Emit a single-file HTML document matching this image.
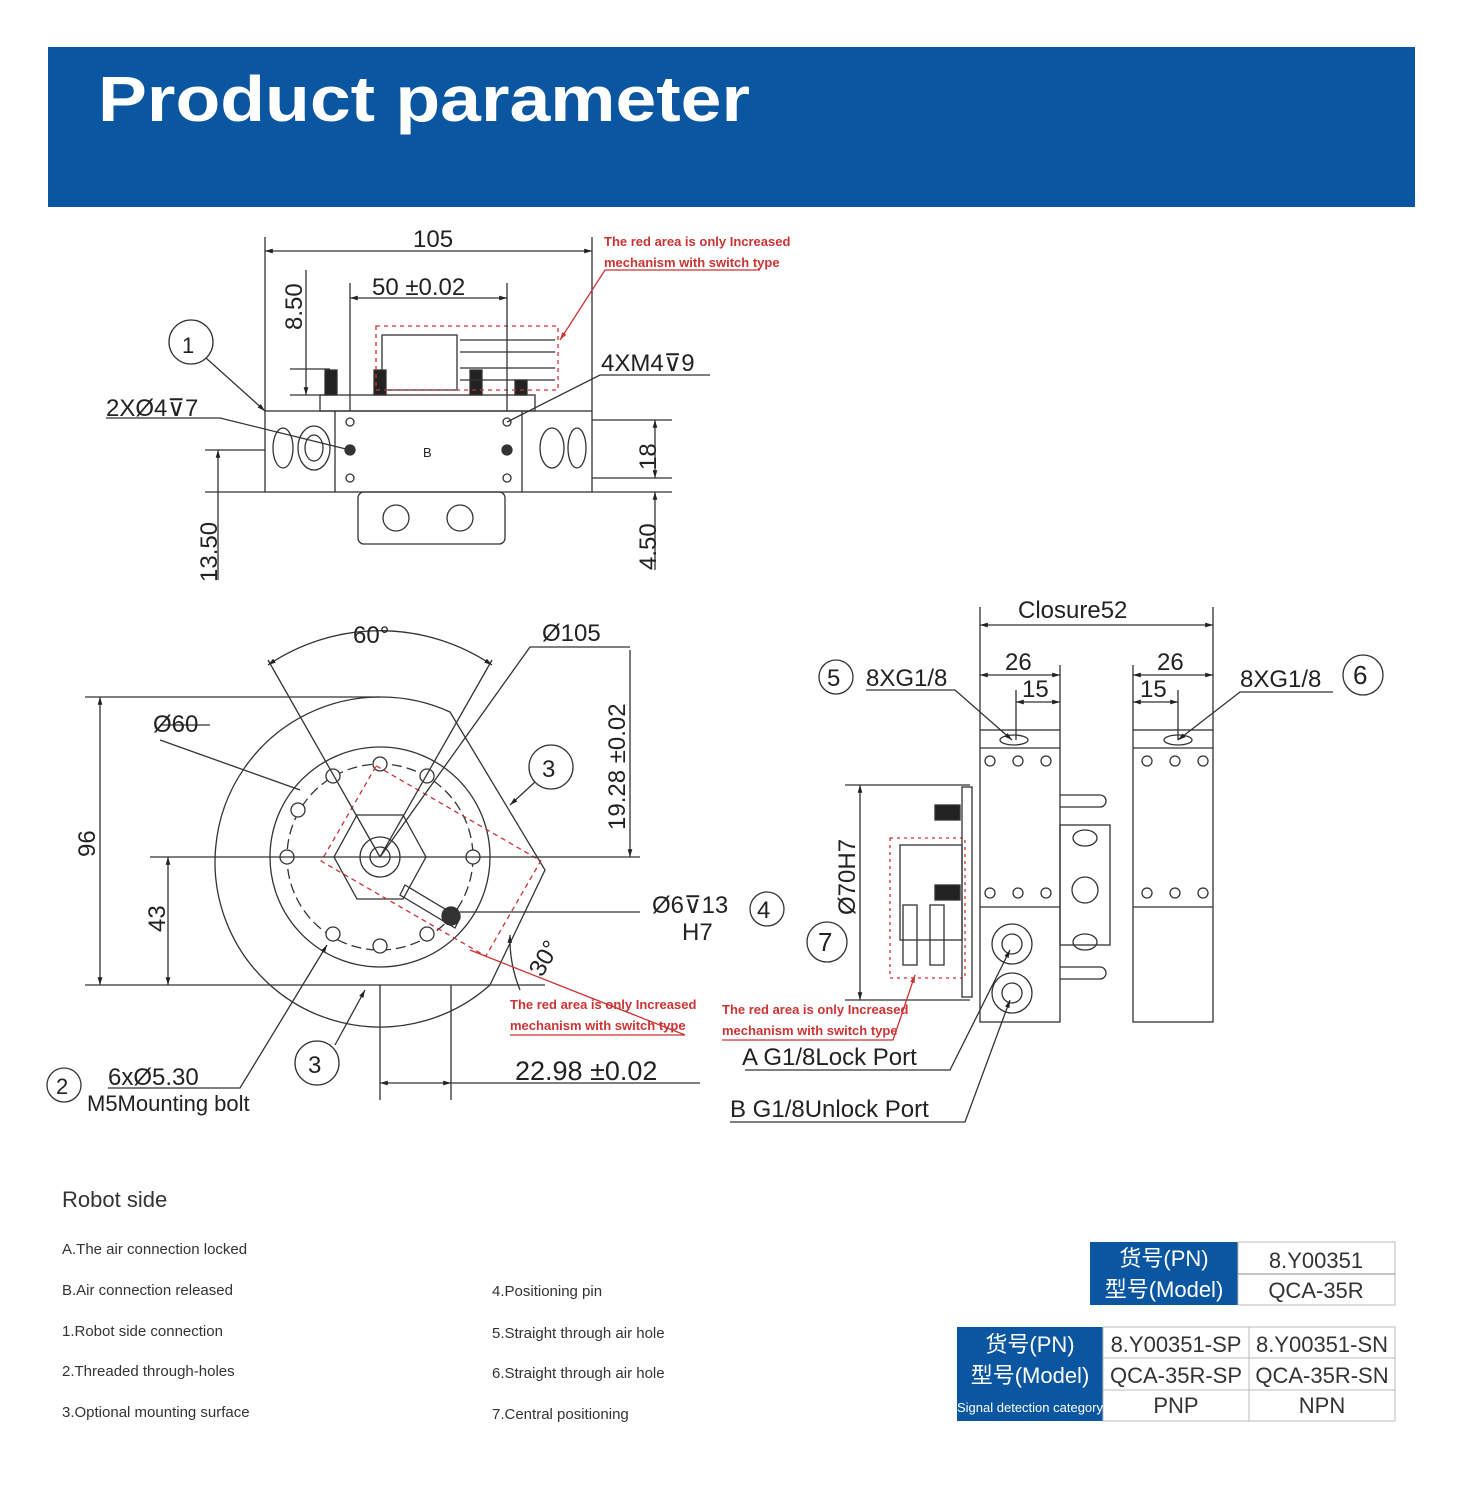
<!DOCTYPE html>
<html><head><meta charset="utf-8"><style>
html,body{margin:0;padding:0;background:#fff}
svg{display:block}
text{font-family:"Liberation Sans","Noto Sans CJK SC",sans-serif}
</style></head><body>
<svg width="1463" height="1500" viewBox="0 0 1463 1500" xmlns="http://www.w3.org/2000/svg">
<defs>
<marker id="a" viewBox="0 0 10 10" refX="10" refY="5" markerWidth="10" markerHeight="6" orient="auto-start-reverse"><path d="M0,2L10,5L0,8z" fill="#222"/></marker>
<marker id="r" viewBox="0 0 10 10" refX="10" refY="5" markerWidth="8" markerHeight="6" orient="auto"><path d="M0,2L10,5L0,8z" fill="#c33"/></marker>
</defs>
<rect x="48" y="47" width="1367" height="160" fill="#0a56a0"/>
<text x="98" y="121" font-size="64" font-weight="bold" fill="#fff" textLength="652" lengthAdjust="spacingAndGlyphs">Product parameter</text>

<g stroke="#333" stroke-width="1.3" fill="none">
<rect x="265" y="411" width="327" height="81"/>
<line x1="335" y1="411" x2="335" y2="492"/><line x1="522" y1="411" x2="522" y2="492"/>
<rect x="320" y="395" width="215" height="16"/>
<rect x="358" y="492" width="147" height="52" rx="6"/>
<circle cx="396" cy="518" r="13"/><circle cx="460" cy="518" r="13"/>
<ellipse cx="283" cy="448" rx="10" ry="20"/><ellipse cx="314" cy="448" rx="16" ry="22"/><ellipse cx="314" cy="448" rx="9" ry="13"/>
<ellipse cx="552" cy="448" rx="12" ry="20"/><ellipse cx="577" cy="448" rx="9" ry="20"/>
<circle cx="350" cy="422" r="4"/><circle cx="350" cy="450" r="5" fill="#333"/><circle cx="350" cy="478" r="4"/>
<circle cx="507" cy="422" r="4"/><circle cx="507" cy="450" r="5" fill="#333"/><circle cx="507" cy="478" r="4"/>
<rect x="382" y="335" width="75" height="55"/>
<rect x="325" y="370" width="12" height="25" fill="#222"/><rect x="374" y="370" width="12" height="25" fill="#222"/><rect x="470" y="370" width="12" height="25" fill="#222"/><rect x="515" y="380" width="12" height="15" fill="#222"/>
<path d="M460,340h95M460,352h95M460,368h95M460,380h95"/>
<rect x="376" y="326" width="182" height="64" stroke="#c33" stroke-dasharray="4,4"/>
<line x1="265" y1="237" x2="265" y2="411"/><line x1="592" y1="237" x2="592" y2="411"/>
<line x1="265" y1="251" x2="592" y2="251" marker-start="url(#a)" marker-end="url(#a)"/>
<line x1="350" y1="283" x2="350" y2="411"/><line x1="507" y1="283" x2="507" y2="411"/>
<line x1="350" y1="298" x2="507" y2="298" marker-start="url(#a)" marker-end="url(#a)"/>
<line x1="306" y1="270" x2="306" y2="395" marker-end="url(#a)"/>
<line x1="290" y1="369" x2="330" y2="369"/><line x1="290" y1="395" x2="330" y2="395"/>
<line x1="205" y1="450" x2="265" y2="450"/><line x1="205" y1="492" x2="265" y2="492"/>
<line x1="218" y1="580" x2="218" y2="450" marker-end="url(#a)"/>
<line x1="592" y1="420" x2="672" y2="420"/><line x1="592" y1="478" x2="672" y2="478"/><line x1="592" y1="492" x2="672" y2="492"/>
<line x1="655" y1="420" x2="655" y2="478" marker-start="url(#a)" marker-end="url(#a)"/>
<line x1="655" y1="570" x2="655" y2="492" marker-end="url(#a)"/>
<circle cx="191" cy="342" r="22"/>
<line x1="206" y1="358" x2="265" y2="411" marker-end="url(#a)"/>
<path d="M106,418H220L350,450"/>
<path d="M710,375H600L507,422"/>
<path d="M760,270H605L560,340" stroke="#c33" marker-end="url(#r)"/>

<path d="M380,697 A165,165 0 1 0 490,985 L545,870 L450,712 A165,165 0 0 0 380,697 Z"/>
<line x1="85" y1="985" x2="545" y2="985"/>
<circle cx="380" cy="857" r="110"/>
<circle cx="380" cy="857" r="93" stroke-dasharray="10,5"/>
<path d="M357,815h46l23,42-23,42h-46l-23-42z"/>
<circle cx="380" cy="857" r="20"/><circle cx="380" cy="857" r="10"/>
<g fill="#fff">
<circle cx="380" cy="764" r="7"/><circle cx="427" cy="776" r="7"/><circle cx="473" cy="857" r="7"/><circle cx="427" cy="934" r="7"/><circle cx="380" cy="946" r="7"/><circle cx="333" cy="934" r="7"/><circle cx="287" cy="857" r="7"/><circle cx="333" cy="776" r="7"/><circle cx="298" cy="810" r="7"/>
</g>
<circle cx="451" cy="916" r="9" fill="#333"/>
<path d="M405,885 L460,918 L455,928 L400,895Z"/>
<rect x="336" y="806" width="190" height="110" transform="rotate(30 431 861)" stroke="#c33" stroke-dasharray="5,4"/>
<line x1="85" y1="697" x2="380" y2="697"/>
<line x1="100" y1="697" x2="100" y2="985" marker-start="url(#a)" marker-end="url(#a)"/>
<line x1="168" y1="857" x2="168" y2="985" marker-start="url(#a)" marker-end="url(#a)"/>
<line x1="150" y1="857" x2="640" y2="857"/>
<line x1="630" y1="650" x2="630" y2="857" marker-end="url(#a)"/>
<line x1="460" y1="912" x2="640" y2="912"/>
<line x1="380" y1="985" x2="380" y2="1100"/><line x1="451" y1="985" x2="451" y2="1100"/>
<line x1="380" y1="1083" x2="451" y2="1083" marker-start="url(#a)" marker-end="url(#a)"/>
<line x1="451" y1="1083" x2="700" y2="1083"/>
<path d="M268,665 A200,200 0 0 1 492,665" marker-start="url(#a)" marker-end="url(#a)"/>
<line x1="268" y1="660" x2="380" y2="857"/><line x1="492" y1="660" x2="380" y2="857"/>
<path d="M630,647H530L380,857"/>
<path d="M210,725H160M160,740L300,790" />
<circle cx="551" cy="767" r="22"/><line x1="535" y1="782" x2="510" y2="805" marker-end="url(#a)"/>
<circle cx="317" cy="1063" r="22"/><line x1="335" y1="1045" x2="365" y2="990" marker-end="url(#a)"/>
<circle cx="64" cy="1085" r="17"/>
<path d="M108,1088H240L327,945" marker-end="url(#a)"/>
<circle cx="767" cy="909" r="17"/>
<path d="M510,935 A135,135 0 0 0 520,990" marker-start="url(#a)"/>
<path d="M510,1035H685L470,950" stroke="#c33"/>

<rect x="980" y="730" width="80" height="292"/>
<line x1="980" y1="748" x2="1060" y2="748"/><line x1="980" y1="907" x2="1060" y2="907"/>
<ellipse cx="1014" cy="740" rx="14" ry="5"/>
<g fill="#fff"><circle cx="990" cy="761" r="5"/><circle cx="1018" cy="761" r="5"/><circle cx="1046" cy="761" r="5"/><circle cx="990" cy="893" r="5"/><circle cx="1018" cy="893" r="5"/><circle cx="1046" cy="893" r="5"/></g>
<circle cx="1012" cy="944" r="20"/><circle cx="1012" cy="944" r="10"/>
<circle cx="1012" cy="993" r="20"/><circle cx="1012" cy="993" r="10"/>
<rect x="1060" y="825" width="50" height="120"/><ellipse cx="1085" cy="838" rx="12" ry="8"/><circle cx="1085" cy="890" r="13"/><ellipse cx="1085" cy="942" rx="12" ry="8"/>
<path d="M1060,795h40a5,5 0 0 1 0,12h-40M1060,967h40a5,5 0 0 1 0,12h-40"/>
<rect x="962" y="787" width="10" height="210"/>
<rect x="900" y="845" width="62" height="95"/>
<rect x="935" y="805" width="25" height="15" fill="#222"/><rect x="935" y="885" width="25" height="15" fill="#222"/>
<rect x="903" y="905" width="14" height="60"/><rect x="930" y="905" width="14" height="60"/>
<rect x="890" y="838" width="75" height="140" stroke="#c33" stroke-dasharray="3,4"/>
<rect x="1133" y="730" width="80" height="292"/>
<line x1="1133" y1="748" x2="1213" y2="748"/><line x1="1133" y1="907" x2="1213" y2="907"/>
<ellipse cx="1178" cy="740" rx="14" ry="5"/>
<g fill="#fff"><circle cx="1147" cy="761" r="5"/><circle cx="1175" cy="761" r="5"/><circle cx="1203" cy="761" r="5"/><circle cx="1147" cy="893" r="5"/><circle cx="1175" cy="893" r="5"/><circle cx="1203" cy="893" r="5"/></g>
<line x1="980" y1="607" x2="980" y2="730"/><line x1="1213" y1="607" x2="1213" y2="730"/>
<line x1="980" y1="625" x2="1213" y2="625" marker-start="url(#a)" marker-end="url(#a)"/>
<line x1="1060" y1="665" x2="1060" y2="730"/><line x1="1133" y1="665" x2="1133" y2="730"/>
<line x1="980" y1="675" x2="1060" y2="675" marker-start="url(#a)" marker-end="url(#a)"/>
<line x1="1133" y1="675" x2="1213" y2="675" marker-start="url(#a)" marker-end="url(#a)"/>
<line x1="1016" y1="690" x2="1016" y2="740"/><line x1="1016" y1="702" x2="1060" y2="702" marker-start="url(#a)" marker-end="url(#a)"/>
<line x1="1178" y1="690" x2="1178" y2="740"/><line x1="1133" y1="702" x2="1178" y2="702" marker-start="url(#a)" marker-end="url(#a)"/>
<circle cx="836" cy="677" r="17"/><path d="M866,690H955L1012,740" marker-end="url(#a)"/>
<circle cx="1363" cy="675" r="20"/><path d="M1333,692H1240L1178,740" marker-end="url(#a)"/>
<line x1="845" y1="785" x2="970" y2="785"/><line x1="845" y1="1000" x2="970" y2="1000"/>
<line x1="860" y1="785" x2="860" y2="1000" marker-start="url(#a)" marker-end="url(#a)"/>
<circle cx="827" cy="942" r="20"/>
<path d="M745,1070H950L1010,950" marker-end="url(#a)"/>
<path d="M730,1122H965L1010,1000" marker-end="url(#a)"/>
<path d="M722,1040H893L915,975" stroke="#c33" marker-end="url(#r)"/>
</g>

<g fill="#222" font-size="24">
<text x="413" y="247">105</text>
<text x="372" y="295">50 ±0.02</text>
<text x="302" y="330" transform="rotate(-90 302 330)">8.50</text>
<text x="217" y="582" transform="rotate(-90 217 582)">13.50</text>
<text x="656" y="470" transform="rotate(-90 656 470)">18</text>
<text x="656" y="570" transform="rotate(-90 656 570)">4.50</text>
<text x="601" y="371">4XM4⊽9</text>
<text x="106" y="416">2XØ4⊽7</text>
<text x="182" y="353" font-size="22">1</text>
<text x="353" y="643">60°</text>
<text x="542" y="641">Ø105</text>
<text x="153" y="732">Ø60</text>
<text x="95" y="857" transform="rotate(-90 95 857)">96</text>
<text x="165" y="932" transform="rotate(-90 165 932)">43</text>
<text x="625" y="830" transform="rotate(-90 625 830)">19.28 ±0.02</text>
<text x="652" y="913">Ø6⊽13</text>
<text x="682" y="940">H7</text>
<text x="542" y="978" transform="rotate(-60 542 978)">30°</text>
<text x="542" y="777">3</text>
<text x="308" y="1073">3</text>
<text x="757" y="918">4</text>
<text x="56" y="1094" font-size="22">2</text>
<text x="108" y="1085">6xØ5.30</text>
<text x="87" y="1111" font-size="22">M5Mounting bolt</text>
<text x="515" y="1080" font-size="27">22.98 ±0.02</text>
<text x="1018" y="618">Closure52</text>
<text x="1005" y="670">26</text><text x="1157" y="670">26</text>
<text x="1022" y="697">15</text><text x="1140" y="697">15</text>
<text x="827" y="686">5</text><text x="866" y="686">8XG1/8</text>
<text x="1240" y="687">8XG1/8</text><text x="1353" y="684" font-size="26">6</text>
<text x="818" y="951" font-size="26">7</text>
<text x="855" y="915" transform="rotate(-90 855 915)">Ø70H7</text>
<text x="742" y="1065">A G1/8Lock Port</text>
<text x="730" y="1117">B G1/8Unlock Port</text>
<text x="423" y="457" font-size="13">B</text>
</g>
<g fill="#c33" font-size="13" font-weight="bold">
<text x="604" y="246">The red area is only Increased</text>
<text x="604" y="267">mechanism with switch type</text>
<text x="510" y="1009">The red area is only Increased</text>
<text x="510" y="1030">mechanism with switch type</text>
<text x="722" y="1014">The red area is only Increased</text>
<text x="722" y="1035">mechanism with switch type</text>
</g>

<g fill="#333">
<text x="62" y="1207" font-size="22">Robot side</text>
<g font-size="15">
<text x="62" y="1254">A.The air connection locked</text>
<text x="62" y="1295">B.Air connection released</text>
<text x="62" y="1336">1.Robot side connection</text>
<text x="62" y="1376">2.Threaded through-holes</text>
<text x="62" y="1417">3.Optional mounting surface</text>
<text x="492" y="1296">4.Positioning pin</text>
<text x="492" y="1338">5.Straight through air hole</text>
<text x="492" y="1378">6.Straight through air hole</text>
<text x="492" y="1419">7.Central positioning</text>
</g></g>

<rect x="1090" y="1242" width="148" height="63" fill="#0a56a0"/>
<rect x="1238" y="1242" width="157" height="63" fill="#fff" stroke="#bbb"/>
<line x1="1238" y1="1274" x2="1395" y2="1274" stroke="#888"/>
<g font-size="22" text-anchor="middle">
<text x="1164" y="1266" fill="#fff">货号(PN)</text>
<text x="1164" y="1297" fill="#fff">型号(Model)</text>
<text x="1316" y="1268" fill="#333">8.Y00351</text>
<text x="1316" y="1298" fill="#333">QCA-35R</text>
</g>
<rect x="957" y="1327" width="146" height="94" fill="#0a56a0"/>
<rect x="1103" y="1327" width="292" height="94" fill="#fff" stroke="#bbb"/>
<line x1="1249" y1="1327" x2="1249" y2="1421" stroke="#bbb"/>
<line x1="1103" y1="1358" x2="1395" y2="1358" stroke="#bbb"/>
<line x1="1103" y1="1390" x2="1395" y2="1390" stroke="#bbb"/>
<g font-size="22" text-anchor="middle">
<text x="1030" y="1352" fill="#fff">货号(PN)</text>
<text x="1030" y="1383" fill="#fff">型号(Model)</text>
<text x="1030" y="1412" fill="#fff" font-size="13">Signal detection category</text>
<text x="1176" y="1352" fill="#333">8.Y00351-SP</text>
<text x="1322" y="1352" fill="#333">8.Y00351-SN</text>
<text x="1176" y="1383" fill="#333">QCA-35R-SP</text>
<text x="1322" y="1383" fill="#333">QCA-35R-SN</text>
<text x="1176" y="1413" fill="#333">PNP</text>
<text x="1322" y="1413" fill="#333">NPN</text>
</g>
</svg>
</body></html>
